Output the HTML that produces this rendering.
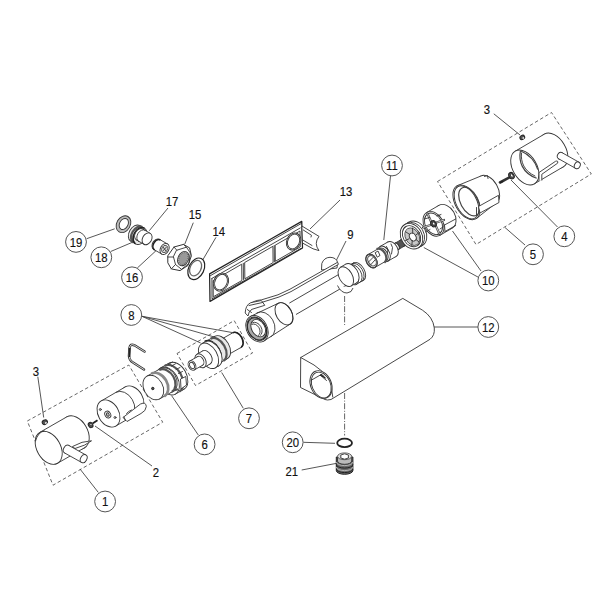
<!DOCTYPE html>
<html><head><meta charset="utf-8">
<style>
html,body{margin:0;padding:0;background:#fff;width:600px;height:600px;overflow:hidden}
svg{display:block}
text{font-family:"Liberation Sans",sans-serif;font-size:12.2px;fill:#111;stroke:#111;stroke-width:0.15;text-anchor:middle}
.c{fill:#fff;stroke:#555;stroke-width:1}
.l{stroke:#444;stroke-width:0.9;fill:none}
.d{stroke:#555;stroke-width:0.9;fill:none;stroke-dasharray:3.5 2.5}
.o{stroke:#333;stroke-width:0.9;fill:#fff;stroke-linejoin:round}
.g{stroke:#333;stroke-width:0.9;fill:#e8e8e8;stroke-linejoin:round}
.k{stroke:#222;stroke-width:1;fill:#555;stroke-linejoin:round}
.m{stroke:#333;stroke-width:0.9;fill:#bbb;stroke-linejoin:round}
.ln{stroke:#333;stroke-width:0.9;fill:none;stroke-linecap:round}
.t{stroke:#333;stroke-width:0.9;fill:none;stroke-linecap:round;stroke-linejoin:round}
.scr{stroke:#333;stroke-width:2.6;fill:none;stroke-linecap:round}
.hatch{stroke:#555;stroke-width:0.8;fill:#999;stroke-dasharray:1 1}
.m2{stroke:#444;stroke-width:0.8;fill:#c8c8c8}
.spk{stroke:#444;stroke-width:2.2;fill:none;stroke-linecap:round}
.spki{stroke:#fff;stroke-width:0.7;fill:none}
.m3{stroke:#444;stroke-width:0.8;fill:#ddd}
.dk{stroke:#222;stroke-width:1;fill:#555}
.lt{stroke:#bbb;stroke-width:0.9;fill:none}
.lt2{stroke:#222;stroke-width:1;fill:none}
.m4{stroke:#333;stroke-width:0.9;fill:#999}
.thk3{stroke:#888;stroke-width:1.6;fill:none}
.in{stroke:#444;stroke-width:1.2;fill:none}
.ring{stroke:#222;stroke-width:1.2;fill:#fff}
.in2{stroke:#666;stroke-width:1.3;fill:none}
.nut{stroke:#333;stroke-width:1;fill:#fff;stroke-linejoin:round}
.m5{stroke:#222;stroke-width:1;fill:#aaa}
.plate{stroke:#222;stroke-width:1.25;fill:#fff;stroke-linejoin:round}
.thk4{stroke:#888;stroke-width:2.6;fill:none}
.hl{stroke:none;fill:#fff}
.dd{stroke:#555;stroke-width:0.9;fill:none;stroke-dasharray:6 1.6 1 1.6}
.dk2{stroke:#222;stroke-width:1;fill:#6a6a6a}
.th{stroke:#222;stroke-width:1.8;fill:none}
.thk{stroke:#222;stroke-width:1.6;fill:none}
.thk2{stroke:#555;stroke-width:2.2;fill:none}
.clipo{stroke:#333;stroke-width:2.5;fill:none;stroke-linecap:round;stroke-linejoin:round}
.clipi{stroke:#fff;stroke-width:0.8;fill:none;stroke-linecap:round;stroke-linejoin:round}
</style></head><body>
<svg width="600" height="600" viewBox="0 0 600 600">
<path class="d" d="M27.3,421 L128.8,365 L162.7,422.2 L53,485.2 Z"/>
<path class="d" d="M177,353.5 L234.2,320.6 L252.5,353 L195.5,385.5 Z"/>
<path class="d" d="M437.5,181.5 L551.5,112.5 L591.3,174 L476,244.5 Z"/>
<path class="dd" d="M344.6,296 L344.6,325.5 M344.6,393 L344.6,435.5"/>
<path class="l" d="M98.3,492.4 L80,469"/>
<path class="l" d="M152,466 L95,426"/>
<path class="l" d="M37.8,376.7 L43.7,417.5"/>
<path class="l" d="M493.8,113.8 L520,135"/>
<path class="l" d="M557.5,227 L511,180"/>
<path class="l" d="M525,245 L505,227.5"/>
<path class="l" d="M198.3,435 L171.7,395.8"/>
<path class="l" d="M243.3,408.3 L221.7,372.5"/>
<path class="l" d="M142,316.3 L232.5,332.6"/>
<path class="l" d="M142,316.3 L216.7,337.7"/>
<path class="l" d="M142,316.3 L200.7,343"/>
<path class="l" d="M346,241 L336,261"/>
<path class="l" d="M481,271 L452.5,231"/>
<path class="l" d="M478.8,277.5 L423.8,247.5"/>
<path class="l" d="M390.5,176 L383.8,240"/>
<path class="l" d="M478,327 L434,327"/>
<path class="l" d="M340,200 L310,229"/>
<path class="l" d="M216,237.3 L202.7,260"/>
<path class="l" d="M193.3,222.7 L184.8,244"/>
<path class="l" d="M137.3,268 L156,250.7"/>
<path class="l" d="M168,208 L149.3,230.7"/>
<path class="l" d="M110.7,251.5 L133.3,241.9"/>
<path class="l" d="M86.7,238.7 L114.7,228.8"/>
<path class="l" d="M303.3,442.3 L335,443.3"/>
<path class="l" d="M301.7,470 L336.7,463.3"/>
<ellipse class="o" cx="75.7" cy="432.3" rx="17.8" ry="11.8" transform="rotate(60.14 75.7 432.3)" />
<path class="o" style="stroke:none" d="M57.56,463.24 L84.56,447.74 L66.84,416.86 L39.84,432.36 Z"/>
<path class="ln" d="M57.56,463.24 L84.56,447.74 M66.84,416.86 L39.84,432.36"/>
<ellipse class="o" cx="48.7" cy="447.8" rx="17.8" ry="11.8" transform="rotate(60.14 48.7 447.8)" />
<path class="t" d="M35.5,441 Q38,432 44,431"/>
<path class="o" d="M72.5,446.5 Q82,441 91.5,440.8 Q86,445.5 75,448.5 Z"/>
<ellipse class="o" cx="66.7" cy="449.2" rx="4.3" ry="3.1" transform="rotate(-60.8 66.7 449.2)" />
<path class="o" style="stroke:none" d="M85.8,454.95 L68.8,445.45 L64.6,452.95 L81.6,462.45 Z"/>
<path class="ln" d="M85.8,454.95 L68.8,445.45 M64.6,452.95 L81.6,462.45"/>
<ellipse class="o" cx="83.7" cy="458.7" rx="4.3" ry="3.1" transform="rotate(-60.8 83.7 458.7)" />
<ellipse class="k" cx="44.8" cy="422.2" rx="2.7" ry="2.2" transform="rotate(-30 44.8 422.2)" />
<ellipse class="hl" cx="45.9" cy="422.9" rx="1" ry="0.8" transform="rotate(-30 45.9 422.9)" />
<path class="th" d="M92.5,423.5 L97.5,420.3"/>
<ellipse class="k" cx="90.6" cy="425" rx="2.2" ry="2.8" transform="rotate(-30 90.6 425)" />
<ellipse class="o" cx="91" cy="424.6" rx="1" ry="1.3" transform="rotate(-30 91 424.6)" />
<ellipse class="o" cx="132.5" cy="399.5" rx="14.5" ry="10.3" transform="rotate(59.74 132.5 399.5)" />
<path class="o" style="stroke:none" d="M115.81,426.02 L139.81,412.02 L125.19,386.98 L101.19,400.98 Z"/>
<path class="ln" d="M115.81,426.02 L139.81,412.02 M125.19,386.98 L101.19,400.98"/>
<ellipse class="o" cx="108.5" cy="413.5" rx="14.5" ry="10.3" transform="rotate(59.74 108.5 413.5)" />
<path class="t" d="M130.65,417.36 A14.5,10.3 60 0 0 116.15,392.24"/>
<ellipse class="o" cx="107.8" cy="414.5" rx="3.6" ry="2.8" transform="rotate(60 107.8 414.5)" />
<ellipse class="m" cx="107.8" cy="414.5" rx="1.8" ry="1.3" transform="rotate(60 107.8 414.5)" />
<ellipse class="t" cx="100.3" cy="409.5" rx="1" ry="1" />
<ellipse class="t" cx="115" cy="417.5" rx="1" ry="1" />
<path class="o" d="M123,417.5 L140.5,404 Q146,401.5 146.3,406.5 Q146,411 141,413.5 L127,421.5 Z"/>
<path class="t" d="M126.5,413.5 Q128.5,411 131.5,410 M125.5,420.5 L124,417"/>
<ellipse class="o" cx="176.5" cy="376.2" rx="15" ry="10" transform="rotate(60.55 176.5 376.2)" />
<path class="o" style="stroke:none" d="M175.38,394.06 L183.88,389.26 L169.12,363.14 L160.62,367.94 Z"/>
<path class="ln" d="M175.38,394.06 L183.88,389.26 M169.12,363.14 L160.62,367.94"/>
<ellipse class="o" cx="168" cy="381" rx="15" ry="10" transform="rotate(60.55 168 381)" />
<path class="thk2" d="M179.4,391.52 A14.8,9.9 60 0 0 164.6,365.88"/>
<path class="t" d="M168.5,364.3 L172.5,362 M171.5,366 L175.5,363.8 M176,369.5 L180,367.5 M178.5,373.5 L182.5,371.5"/>
<path class="o" d="M180.5,379 L185.8,376.5 L186.5,385 L181,389 Z"/>
<path class="thk2" d="M165,392.8 L178,389.3"/>
<ellipse class="o" cx="166.8" cy="380" rx="13" ry="9.5" transform="rotate(60.95 166.8 380)" />
<path class="o" style="stroke:none" d="M159.61,398.86 L173.11,391.36 L160.49,368.64 L146.99,376.14 Z"/>
<path class="ln" d="M159.61,398.86 L173.11,391.36 M160.49,368.64 L146.99,376.14"/>
<ellipse class="o" cx="153.3" cy="387.5" rx="13" ry="9.5" transform="rotate(60.95 153.3 387.5)" />
<path class="thk2" d="M171.8,391.91 A12.6,9.2 60 0 0 159.2,370.09"/>
<path class="thk4" d="M164.3,396.26 A13,9.5 60 0 0 151.3,373.74"/>
<ellipse class="k" cx="152.8" cy="388.5" rx="1.2" ry="1.2" />
<path class="clipo" d="M144.5,351.5 L134.5,345.3 Q130.2,343.2 129.5,348 L129,356 Q129.3,360.5 133,362.5 L144,369.5"/>
<path class="clipi" d="M144.5,351.5 L134.5,345.3 Q130.2,343.2 129.5,348 L129,356 Q129.3,360.5 133,362.5 L144,369.5"/>
<path class="th" d="M129.7,348 L129.3,357"/>
<ellipse class="o" cx="237.1" cy="340" rx="8.4" ry="5.4" transform="rotate(60.47 237.1 340)" />
<path class="o" style="stroke:none" d="M223.94,357.11 L241.24,347.31 L232.96,332.69 L215.66,342.49 Z"/>
<path class="ln" d="M223.94,357.11 L241.24,347.31 M232.96,332.69 L215.66,342.49"/>
<ellipse class="o" cx="219.8" cy="349.8" rx="8.4" ry="5.4" transform="rotate(60.47 219.8 349.8)" />
<path class="thk" d="M241.2,347.27 A8.4,5.4 60 0 0 232.8,332.73"/>
<ellipse class="g" cx="221" cy="347.5" rx="12.8" ry="8.3" transform="rotate(60.26 221 347.5)" />
<path class="g" style="stroke:none" d="M216.85,364.61 L227.35,358.61 L214.65,336.39 L204.15,342.39 Z"/>
<path class="ln" d="M216.85,364.61 L227.35,358.61 M214.65,336.39 L204.15,342.39"/>
<ellipse class="g" cx="210.5" cy="353.5" rx="12.8" ry="8.3" transform="rotate(60.26 210.5 353.5)" />
<path class="thk2" d="M223.4,360.89 A12.8,8.3 60 0 0 210.6,338.71"/>
<path class="thk" d="M218.2,364.4 A13.4,8.7 60 0 0 204.8,341.2"/>
<ellipse class="o" cx="212" cy="353.8" rx="13.8" ry="8.6" transform="rotate(60.26 212 353.8)" />
<path class="o" style="stroke:none" d="M215.35,367.78 L218.85,365.78 L205.15,341.82 L201.65,343.82 Z"/>
<path class="ln" d="M215.35,367.78 L218.85,365.78 M205.15,341.82 L201.65,343.82"/>
<ellipse class="o" cx="208.5" cy="355.8" rx="13.8" ry="8.6" transform="rotate(60.26 208.5 355.8)" />
<ellipse class="o" cx="206.5" cy="357.4" rx="7.5" ry="5" transform="rotate(60.46 206.5 357.4)" />
<path class="o" style="stroke:none" d="M204.2,367.33 L210.2,363.93 L202.8,350.87 L196.8,354.27 Z"/>
<path class="ln" d="M204.2,367.33 L210.2,363.93 M202.8,350.87 L196.8,354.27"/>
<ellipse class="o" cx="200.5" cy="360.8" rx="7.5" ry="5" transform="rotate(60.46 200.5 360.8)" />
<ellipse class="o" cx="200" cy="361" rx="5" ry="3.5" transform="rotate(60.64 200 361)" />
<path class="o" style="stroke:none" d="M194.45,369.86 L202.45,365.36 L197.55,356.64 L189.55,361.14 Z"/>
<path class="ln" d="M194.45,369.86 L202.45,365.36 M197.55,356.64 L189.55,361.14"/>
<ellipse class="o" cx="192" cy="365.5" rx="5" ry="3.5" transform="rotate(60.64 192 365.5)" />
<ellipse class="t" cx="192" cy="365.5" rx="3.4" ry="2.2" transform="rotate(61 192 365.5)" />
<path class="o" d="M321.5,270 L321.8,263.5 Q324,257.5 330,257.3 Q336.5,257.5 337.6,262.5 L337,268 Z"/>
<path class="o" d="M248.3,306 Q252,300.5 261.7,299.8 L278,294.8 L290,289.2 L337.5,262.3 L338.5,264.3 L291,291.6 L279,297 L263,302 Q255,303 251,310 Z"/>
<ellipse class="o" cx="343" cy="279.6" rx="6.6" ry="4.2" transform="rotate(59.89 343 279.6)" />
<path class="o" style="stroke:none" d="M296.31,314.31 L346.31,285.31 L339.69,273.89 L289.69,302.89 Z"/>
<path class="ln" d="M296.31,314.31 L346.31,285.31 M339.69,273.89 L289.69,302.89"/>
<path class="o" d="M337.5,285.5 Q341,293 347,293 Q352,292.5 353,288"/>
<ellipse class="o" cx="358.5" cy="271.6" rx="10" ry="6" transform="rotate(60.26 358.5 271.6)" />
<path class="o" style="stroke:none" d="M356.46,284.28 L363.46,280.28 L353.54,262.92 L346.54,266.92 Z"/>
<path class="ln" d="M356.46,284.28 L363.46,280.28 M353.54,262.92 L346.54,266.92"/>
<ellipse class="o" cx="351.5" cy="275.6" rx="10" ry="6" transform="rotate(60.26 351.5 275.6)" />
<path class="t" d="M360,282.26 A10,6 60 0 0 350,264.94"/>
<path class="t" d="M362,281.06 A10,6 60 0 0 352,263.74"/>
<ellipse class="o" cx="351.3" cy="273.4" rx="10.8" ry="6.5" transform="rotate(59.81 351.3 273.4)" />
<path class="o" style="stroke:none" d="M351.23,285.93 L356.73,282.73 L345.87,264.07 L340.37,267.27 Z"/>
<path class="ln" d="M351.23,285.93 L356.73,282.73 M345.87,264.07 L340.37,267.27"/>
<ellipse class="o" cx="345.8" cy="276.6" rx="10.8" ry="6.5" transform="rotate(59.81 345.8 276.6)" />
<ellipse class="o" cx="284" cy="313.8" rx="12" ry="7.8" transform="rotate(60.95 284 313.8)" />
<path class="o" style="stroke:none" d="M263.8,341.04 L289.83,324.29 L278.17,303.31 L250.2,316.56 Z"/>
<path class="ln" d="M263.8,341.04 L289.83,324.29 M278.17,303.31 L250.2,316.56"/>
<ellipse class="o" cx="257" cy="328.8" rx="14" ry="10.2" transform="rotate(60.95 257 328.8)" />
<ellipse class="t" cx="284" cy="313.8" rx="12" ry="7.8" transform="rotate(60 284 313.8)" />
<path class="t" d="M271,336.92 A14,10.2 60 0 0 257,312.68"/>
<path class="o" d="M245.2,313 Q245.5,305 250.7,302.7 L261.3,300.5 L264.8,305.3 L252,309.3 Q248.5,311 248,316 Z"/>
<path class="t" d="M249,305.5 L262.5,302.5 M247.3,309.5 L251.5,312.5"/>
<ellipse class="t" cx="257" cy="328.8" rx="12.6" ry="9" transform="rotate(60 257 328.8)" />
<ellipse class="m5" cx="257" cy="328.8" rx="11.8" ry="8.8" transform="rotate(60 257 328.8)" />
<ellipse class="o" cx="258.2" cy="328.1" rx="9.3" ry="6.6" transform="rotate(60 258.2 328.1)" />
<path class="t" d="M260.05,335.7 A7.5,5.2 60 0 0 252.55,322.7"/>
<path class="t" d="M258.25,335.63 A6.5,4.6 60 0 0 251.75,324.37"/>
<path class="plate" d="M209.6,273.9 L301.75,221.4 L302.5,248 L210,301.4 Z"/>
<path class="t" d="M210.5,275.6 L301.8,223.2"/>
<path class="t" d="M211.9,278.4 L300.2,228 M211.9,278.4 L212,298.8 L300.6,248.6"/>
<path class="t" d="M213.5,280.5 L241.7,264.2 L241.9,280.5 L213.6,296.6 Z"/>
<path class="t" d="M245,262.3 L272.9,246.3 L273.1,262.6 L245.2,278.6 Z"/>
<path class="t" d="M275.5,245 L300,231 L300.2,247 L275.7,261.1 Z"/>
<path class="t" d="M243.3,263.3 L243.5,279.5 M274.2,245.5 L274.4,261.8"/>
<ellipse class="o" cx="221" cy="282.1" rx="7.2" ry="9.3" transform="rotate(25 221 282.1)" />
<ellipse class="t" cx="221" cy="282.1" rx="6" ry="8.1" transform="rotate(25 221 282.1)" />
<ellipse class="o" cx="293.6" cy="241.5" rx="6.9" ry="8.8" transform="rotate(25 293.6 241.5)" />
<ellipse class="t" cx="293.6" cy="241.5" rx="5.8" ry="7.6" transform="rotate(25 293.6 241.5)" />
<path class="o" d="M301.9,226 L319,236.4 Q313.5,243.5 319,250.6 L313,248.8 L302.5,243 Z"/>
<path class="t" d="M303.3,230 L311.5,235.3 L311,237 M302.8,240 L312,245.5"/>
<ellipse class="ring" cx="196.3" cy="268.8" rx="7.6" ry="11.4" transform="rotate(26 196.3 268.8)" />
<ellipse class="in2" cx="195.6" cy="268.1" rx="5.4" ry="8.2" transform="rotate(26 195.6 268.1)" />
<path class="nut" d="M167.8,255.8 L174,247 L183.5,244.4 L189.6,247.9 L191.4,255.8 L188,265.4 L180,270.6 L171.3,268.9 L167.8,262.8 Z"/>
<path class="t" d="M176.8,250.2 L186.5,247.2 L190.3,253 L189,263.2 L181.5,269.3 L175.5,264.5 L173.5,257 Z"/>
<path class="t" d="M174,247 L176.8,250.2 M167.8,257 L173.5,257 M171.3,268.9 L175.5,264.5 M183.5,244.4 L186.5,247.2"/>
<ellipse class="m" cx="183.3" cy="258.6" rx="5.3" ry="7.5" transform="rotate(25 183.3 258.6)" />
<ellipse class="hatch" cx="183.3" cy="258.6" rx="4.2" ry="6.3" transform="rotate(25 183.3 258.6)" />
<ellipse class="o" cx="156.6" cy="244.4" rx="5.8" ry="4.2" transform="rotate(-60.1 156.6 244.4)" />
<path class="o" style="stroke:none" d="M167.49,243.97 L159.49,239.37 L153.71,249.43 L161.71,254.03 Z"/>
<path class="ln" d="M167.49,243.97 L159.49,239.37 M153.71,249.43 L161.71,254.03"/>
<ellipse class="o" cx="164.6" cy="249" rx="5.8" ry="4.2" transform="rotate(-60.1 164.6 249)" />
<path class="thk" d="M160.4,239.98 A5.8,4.2 -60 0 0 154.6,250.02"/>
<ellipse class="m3" cx="164.6" cy="249" rx="2.8" ry="3.8" transform="rotate(25 164.6 249)" />
<path class="t" d="M163,247 L166,251 M166.5,247 L162.8,251"/>
<ellipse class="g" cx="135.2" cy="233.3" rx="9" ry="6" transform="rotate(-59.89 135.2 233.3)" />
<path class="g" style="stroke:none" d="M144.72,228.41 L139.72,225.51 L130.68,241.09 L135.68,243.99 Z"/>
<path class="ln" d="M144.72,228.41 L139.72,225.51 M130.68,241.09 L135.68,243.99"/>
<ellipse class="g" cx="140.2" cy="236.2" rx="9" ry="6" transform="rotate(-59.89 140.2 236.2)" />
<path class="thk2" d="M142.2,226.91 A9,6 -60 0 0 133.2,242.49"/>
<path class="thk" d="M144.2,228.01 A9,6 -60 0 0 135.2,243.59"/>
<ellipse class="o" cx="139.6" cy="234.5" rx="6.3" ry="4.5" transform="rotate(-60.17 139.6 234.5)" />
<path class="o" style="stroke:none" d="M150.23,233.33 L142.73,229.03 L136.47,239.97 L143.97,244.27 Z"/>
<path class="ln" d="M150.23,233.33 L142.73,229.03 M136.47,239.97 L143.97,244.27"/>
<ellipse class="o" cx="147.1" cy="238.8" rx="6.3" ry="4.5" transform="rotate(-60.17 147.1 238.8)" />
<path class="t" d="M145.3,230.18 A6.6,4.7 -60 0 0 138.7,241.62"/>
<ellipse class="m" cx="123.5" cy="224.2" rx="6.8" ry="8.9" transform="rotate(30 123.5 224.2)" />
<ellipse class="o" cx="123.8" cy="224" rx="4.2" ry="5.8" transform="rotate(30 123.8 224)" />
<ellipse class="k" cx="402.5" cy="243" rx="3.6" ry="2.3" transform="rotate(59.74 402.5 243)" />
<path class="k" style="stroke:none" d="M398.31,249.61 L404.31,246.11 L400.69,239.89 L394.69,243.39 Z"/>
<path class="ln" d="M398.31,249.61 L404.31,246.11 M400.69,239.89 L394.69,243.39"/>
<ellipse class="k" cx="396.5" cy="246.5" rx="3.6" ry="2.3" transform="rotate(59.74 396.5 246.5)" />
<ellipse class="o" cx="396.5" cy="246.5" rx="3.6" ry="2.3" transform="rotate(59.89 396.5 246.5)" />
<path class="o" style="stroke:none" d="M393.31,252.51 L398.31,249.61 L394.69,243.39 L389.69,246.29 Z"/>
<path class="ln" d="M393.31,252.51 L398.31,249.61 M394.69,243.39 L389.69,246.29"/>
<ellipse class="o" cx="391.5" cy="249.4" rx="3.6" ry="2.3" transform="rotate(59.89 391.5 249.4)" />
<ellipse class="o" cx="392" cy="249.2" rx="8.3" ry="5.5" transform="rotate(60.1 392 249.2)" />
<path class="o" style="stroke:none" d="M388.14,261 L396.14,256.4 L387.86,242 L379.86,246.6 Z"/>
<path class="ln" d="M388.14,261 L396.14,256.4 M387.86,242 L379.86,246.6"/>
<ellipse class="o" cx="384" cy="253.8" rx="8.3" ry="5.5" transform="rotate(60.1 384 253.8)" />
<path class="t" d="M386.5,246.5 L388,249.5 L387,256 M391,244 L392.5,247.5 L391.5,254"/>
<ellipse class="o" cx="382.5" cy="254.7" rx="7.3" ry="5" transform="rotate(60.2 382.5 254.7)" />
<path class="o" style="stroke:none" d="M375.13,267.33 L386.13,261.03 L378.87,248.37 L367.87,254.67 Z"/>
<path class="ln" d="M375.13,267.33 L386.13,261.03 M378.87,248.37 L367.87,254.67"/>
<ellipse class="o" cx="371.5" cy="261" rx="7.3" ry="5" transform="rotate(60.2 371.5 261)" />
<path class="thk2" d="M384.4,262.55 A7.8,5.3 60 0 0 376.6,249.05"/>
<ellipse class="in" cx="371.5" cy="261" rx="7.3" ry="5" transform="rotate(60 371.5 261)" />
<ellipse class="in2" cx="372" cy="260.7" rx="5.6" ry="3.8" transform="rotate(60 372 260.7)" />
<path class="t" d="M368.5,262 L373.5,257 M370.5,265 L375,260"/>
<path class="t" d="M375.5,252.5 L378,251 L380,255.5 L377.5,257 Z"/>
<ellipse class="o" cx="415.5" cy="233.9" rx="13.5" ry="10.5" transform="rotate(60.1 415.5 233.9)" />
<path class="o" style="stroke:none" d="M418.23,247.9 L422.23,245.6 L408.77,222.2 L404.77,224.5 Z"/>
<path class="ln" d="M418.23,247.9 L422.23,245.6 M408.77,222.2 L404.77,224.5"/>
<ellipse class="o" cx="411.5" cy="236.2" rx="13.5" ry="10.5" transform="rotate(60.1 411.5 236.2)" />
<path class="t" d="M420.25,246.69 A13.5,10.5 60 0 0 406.75,223.31"/>
<ellipse class="t" cx="411.5" cy="236.2" rx="11.2" ry="8.4" transform="rotate(60 411.5 236.2)" />
<ellipse class="m2" cx="412.3" cy="236.7" rx="9.3" ry="6.8" transform="rotate(60 412.3 236.7)" />
<ellipse class="o" cx="412.8" cy="237" rx="4.2" ry="3.1" transform="rotate(60 412.8 237)" />
<path class="t" d="M406,232 L409.5,234.3 M405.5,240.5 L409,238.8 M411.8,245.5 L412.3,240.5 M419,242 L416,239.5 M419.5,232.5 L416.3,234.6 M412.5,228 L412.8,233.5"/>
<ellipse class="o" cx="445.5" cy="216.8" rx="13.2" ry="9.5" transform="rotate(59.74 445.5 216.8)" />
<path class="o" style="stroke:none" d="M440.15,235.2 L452.15,228.2 L438.85,205.4 L426.85,212.4 Z"/>
<path class="ln" d="M440.15,235.2 L452.15,228.2 M438.85,205.4 L426.85,212.4"/>
<ellipse class="o" cx="433.5" cy="223.8" rx="13.2" ry="9.5" transform="rotate(59.74 433.5 223.8)" />
<path class="t" d="M444.5,225 L455.7,219 M445,231.5 L455.7,225.5 M444.5,225 L445,231.5"/>
<ellipse class="t" cx="433.5" cy="223.8" rx="11.5" ry="8.1" transform="rotate(60 433.5 223.8)" />
<path class="spk" d="M427.5,213.5 L431,221.5 M439.5,234 L436,226.2 M423,227.5 L430.5,225 M444,220 L436.5,222.5"/>
<path class="spki" d="M427.5,213.5 L431,221.5 M439.5,234 L436,226.2 M423,227.5 L430.5,225 M444,220 L436.5,222.5"/>
<path class="t" d="M424.5,219 L429.5,217.5 M437,216 L441,214.5 M426,232 L430,229.5 M440,229 L443,227"/>
<ellipse class="k" cx="433.5" cy="223.8" rx="3.3" ry="2.6" transform="rotate(60 433.5 223.8)" />
<ellipse class="o" cx="433.7" cy="223.6" rx="1.7" ry="1.3" transform="rotate(60 433.7 223.6)" />
<ellipse class="o" cx="488.5" cy="189.5" rx="15.5" ry="9.3" transform="rotate(59.81 488.5 189.5)" />
<path class="o" style="stroke:none" d="M476.05,218.72 L496.29,202.9 L480.71,176.1 L456.95,185.88 Z"/>
<path class="ln" d="M476.05,218.72 L496.29,202.9 M480.71,176.1 L456.95,185.88"/>
<ellipse class="o" cx="466.5" cy="202.3" rx="19" ry="11.2" transform="rotate(59.81 466.5 202.3)" />
<ellipse class="t" cx="466.5" cy="202.3" rx="17.9" ry="10.2" transform="rotate(62 466.5 202.3)" />
<ellipse class="in" cx="469.3" cy="201.6" rx="15.5" ry="8.8" transform="rotate(62 469.3 201.6)" />
<path class="o" d="M478.5,206.5 L498.5,195.3 L499,202.5 L480,213 Z"/>
<path class="t" d="M476.5,207.5 L476.5,215"/>
<path class="t" d="M484.5,176.5 L487.5,175.5 L488,178.5"/>
<path class="scr" d="M509.5,177.3 L500,182.5"/>
<path class="thk" d="M503,181.2 L500,182.8"/>
<ellipse class="k" cx="511.5" cy="175.7" rx="2.5" ry="3.4" transform="rotate(-30 511.5 175.7)" />
<ellipse class="o" cx="511.8" cy="175.5" rx="1.2" ry="1.9" transform="rotate(-30 511.8 175.5)" />
<ellipse class="o" cx="553.8" cy="150.5" rx="18.9" ry="12" transform="rotate(59.62 553.8 150.5)" />
<path class="o" style="stroke:none" d="M534.36,183.8 L563.36,166.8 L544.24,134.2 L515.24,151.2 Z"/>
<path class="ln" d="M534.36,183.8 L563.36,166.8 M544.24,134.2 L515.24,151.2"/>
<ellipse class="o" cx="524.8" cy="167.5" rx="18.9" ry="12" transform="rotate(59.62 524.8 167.5)" />
<path class="in" d="M520.4,150.8 C518.5,161 522,173 536.7,178.3 M520.4,150.8 C528,154 535,161 537.8,169.5"/>
<path class="t" d="M521.5,153 C520.5,162 524,171 535,176"/>
<path class="o" d="M539,181 L539,172.5 L555.5,161.3 Q558.5,160.2 557.6,163.2 L541.8,174.3 L541.8,180.5"/>
<ellipse class="o" cx="560.3" cy="155.7" rx="3.5" ry="2.8" transform="rotate(-60.55 560.3 155.7)" />
<path class="o" style="stroke:none" d="M579.02,162.25 L562.02,152.65 L558.58,158.75 L575.58,168.35 Z"/>
<path class="ln" d="M579.02,162.25 L562.02,152.65 M558.58,158.75 L575.58,168.35"/>
<ellipse class="o" cx="577.3" cy="165.3" rx="3.5" ry="2.8" transform="rotate(-60.55 577.3 165.3)" />
<ellipse class="k" cx="522.3" cy="137.4" rx="2.5" ry="2" transform="rotate(-30 522.3 137.4)" />
<ellipse class="hl" cx="523.3" cy="138" rx="0.9" ry="0.8" transform="rotate(-30 523.3 138)" />
<path class="o" d="M300.7,357.5 L402.8,298.4 L422.5,310.2 Q433,317 434.3,328 Q435,335.5 430,339.3 L331,399.5 Q327,400.5 325,399.5 L300.5,387.5 Z"/>
<path class="t" d="M300.7,357.5 L314,365 Q332,376 332.8,397"/>
<ellipse class="o" cx="321" cy="384.6" rx="10.4" ry="14.5" transform="rotate(-23 321 384.6)" />
<ellipse class="t" cx="321.3" cy="385" rx="9.2" ry="13.4" transform="rotate(-23 321.3 385)" />
<path class="t" d="M311.3,380.2 L320.2,375.1 L326.5,380.5"/>
<path class="k" d="M320,375 L325.5,378.2 L322,374.5 Z"/>
<ellipse class="th" cx="344.6" cy="442.9" rx="7.4" ry="4.2" />
<path class="dk2" d="M336.3,457 L336.3,470.5 A8.3,3.8 0 0 0 352.9,470.5 L352.9,457 Z"/>
<path class="lt" d="M336.3,462 A8.3,3.6 0 0 0 352.9,462 M336.3,467 A8.3,3.6 0 0 0 352.9,467"/>
<path class="lt2" d="M336.3,464.5 A8.3,3.6 0 0 0 352.9,464.5 M336.3,469 A8.3,3.6 0 0 0 352.9,469"/>
<path class="m" d="M337.5,457 L337.5,461 A7.1,3.3 0 0 0 351.7,461 L351.7,457 Z"/>
<ellipse class="m3" cx="344.6" cy="456.3" rx="7.1" ry="3.4" />
<path class="o" d="M340.8,455 L344.6,453.8 L348.4,455 L348.4,458 L344.6,459.2 L340.8,458 Z"/>
<circle class="c" cx="105.1" cy="501.5" r="10.4"/>
<text transform="translate(105.1 506.4) scale(0.93 1)">1</text>
<text transform="translate(156 476.8) scale(0.93 1)">2</text>
<text transform="translate(36 375.8) scale(0.93 1)">3</text>
<text transform="translate(487 113.8) scale(0.93 1)">3</text>
<circle class="c" cx="564.3" cy="236.3" r="10.4"/>
<text transform="translate(564.3 241.2) scale(0.93 1)">4</text>
<circle class="c" cx="533" cy="254.3" r="10.4"/>
<text transform="translate(533 259.2) scale(0.93 1)">5</text>
<circle class="c" cx="204.6" cy="444.4" r="10.4"/>
<text transform="translate(204.6 449.3) scale(0.93 1)">6</text>
<circle class="c" cx="249" cy="418.3" r="10.4"/>
<text transform="translate(249 423.2) scale(0.93 1)">7</text>
<circle class="c" cx="131.3" cy="315" r="10.4"/>
<text transform="translate(131.3 319.9) scale(0.93 1)">8</text>
<text transform="translate(350.5 239.3) scale(0.93 1)">9</text>
<circle class="c" cx="488.3" cy="280.5" r="10.4"/>
<text transform="translate(488.3 285.4) scale(0.93 1)">10</text>
<circle class="c" cx="392" cy="165.5" r="10.4"/>
<text transform="translate(392 170.4) scale(0.93 1)">11</text>
<circle class="c" cx="488.3" cy="327" r="10.4"/>
<text transform="translate(488.3 331.9) scale(0.93 1)">12</text>
<text transform="translate(346 195.8) scale(0.93 1)">13</text>
<text transform="translate(218.8 236.1) scale(0.93 1)">14</text>
<text transform="translate(195 218.8) scale(0.93 1)">15</text>
<circle class="c" cx="132" cy="277.3" r="10.4"/>
<text transform="translate(132 282.2) scale(0.93 1)">16</text>
<text transform="translate(172 206.1) scale(0.93 1)">17</text>
<circle class="c" cx="101.3" cy="257.3" r="10.4"/>
<text transform="translate(101.3 262.2) scale(0.93 1)">18</text>
<circle class="c" cx="76" cy="241.9" r="10.4"/>
<text transform="translate(76 246.8) scale(0.93 1)">19</text>
<circle class="c" cx="292.7" cy="442.3" r="10.4"/>
<text transform="translate(292.7 447.2) scale(0.93 1)">20</text>
<text transform="translate(291.7 475.5) scale(0.93 1)">21</text>
</svg>
</body></html>
